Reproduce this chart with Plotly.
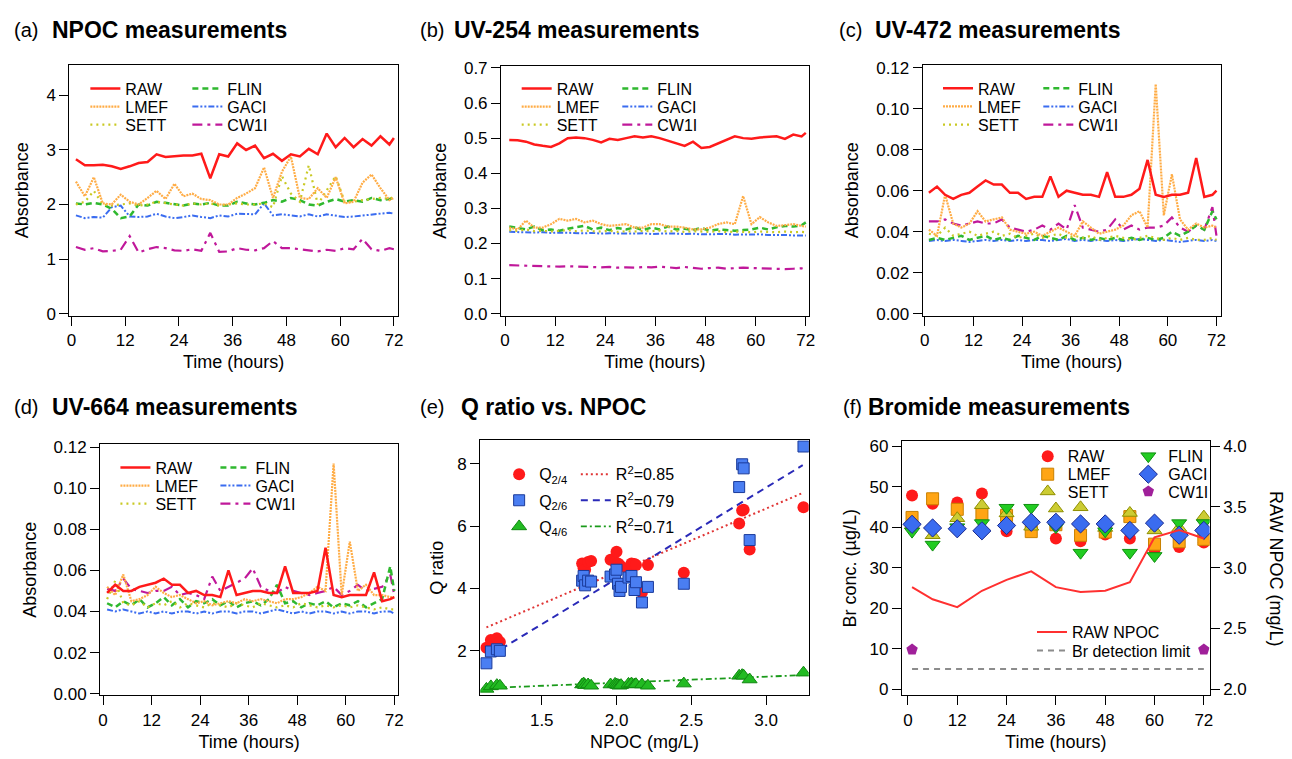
import plotly.graph_objects as go

W, H = 1292, 759
FONT = "Liberation Sans, Arial, Helvetica, sans-serif"

# ---------------- data ----------------
TIME = [1, 3, 5, 7, 9, 11, 13, 15, 17, 19, 21, 23, 25, 27, 29, 31, 33, 35, 37,
        39, 41, 43, 45, 47, 49, 51, 53, 55, 57, 59, 61, 63, 65, 67, 69, 71, 72]
SERIES = ["RAW", "LMEF", "SETT", "FLIN", "GACI", "CW1I"]

# (a) NPOC
NPOC_RAW = [2.83, 2.72, 2.72, 2.73, 2.70, 2.65, 2.70, 2.76, 2.78, 2.92, 2.87, 2.89, 2.90, 2.90, 2.93, 2.48, 2.92, 2.88, 3.12,
            3.00, 3.08, 2.85, 2.93, 2.80, 2.92, 2.88, 3.02, 2.92, 3.30, 3.05, 3.22, 3.05, 3.20, 3.08, 3.25, 3.10, 3.22]
NPOC_LMEF = [2.42, 2.15, 2.50, 2.02, 2.00, 2.18, 2.05, 2.00, 2.12, 2.25, 2.10, 2.38, 2.15, 2.20, 2.10, 2.08, 2.00, 2.00, 2.12,
             2.20, 2.30, 2.68, 2.12, 2.60, 2.88, 2.12, 2.10, 2.30, 2.12, 2.50, 2.02, 2.05, 2.40, 2.55, 2.30, 2.08, 2.12]
NPOC_SETT = [2.00, 2.05, 2.25, 2.00, 1.98, 2.00, 2.02, 1.98, 2.00, 2.05, 2.02, 2.00, 1.98, 2.02, 2.00, 2.02, 1.98, 2.00, 2.02,
             2.00, 2.00, 2.02, 1.95, 2.52, 2.20, 2.05, 2.72, 2.00, 2.25, 2.52, 2.05, 2.05, 2.08, 2.10, 2.12, 2.10, 2.15]
NPOC_FLIN = [2.02, 2.00, 2.03, 2.00, 1.92, 1.75, 1.78, 2.00, 1.98, 2.05, 2.03, 2.00, 1.98, 2.02, 2.00, 2.03, 1.98, 1.98, 2.05,
             2.02, 2.00, 2.03, 2.08, 2.05, 2.12, 2.08, 2.00, 1.98, 2.05, 2.10, 2.05, 2.08, 2.05, 2.12, 2.08, 2.10, 2.12]
NPOC_GACI = [1.80, 1.75, 1.77, 1.76, 1.95, 1.98, 1.78, 1.77, 1.78, 1.83, 1.78, 1.75, 1.77, 1.80, 1.77, 1.75, 1.80, 1.78, 1.83,
             1.82, 1.82, 2.02, 1.80, 1.82, 1.80, 1.78, 1.82, 1.78, 1.82, 1.80, 1.77, 1.78, 1.80, 1.82, 1.83, 1.85, 1.83]
NPOC_CW1I = [1.22, 1.17, 1.20, 1.14, 1.15, 1.17, 1.42, 1.12, 1.18, 1.22, 1.20, 1.16, 1.15, 1.18, 1.15, 1.48, 1.13, 1.14, 1.20,
             1.17, 1.16, 1.20, 1.33, 1.20, 1.20, 1.18, 1.15, 1.14, 1.17, 1.15, 1.20, 1.18, 1.37, 1.18, 1.15, 1.20, 1.18]

# (b) UV-254
UV254_RAW = [.495, .494, .490, .482, .478, .475, .485, .500, .502, .500, .495, .488, .498, .495, .500, .505, .502, .505, .500,
             .492, .485, .478, .490, .472, .475, .485, .495, .505, .500, .498, .502, .503, .505, .498, .510, .505, .515]
UV254_LMEF = [.245, .240, .265, .245, .245, .255, .270, .265, .270, .260, .265, .255, .250, .252, .255, .245, .245, .255, .255,
              .248, .248, .245, .240, .240, .245, .255, .260, .255, .335, .255, .275, .260, .250, .252, .255, .250, .248]
UV254_SETT = [.238, .236, .240, .235, .236, .234, .236, .238, .235, .237, .235, .234, .236, .233, .235, .234, .236, .235, .237,
              .234, .236, .233, .235, .234, .233, .235, .232, .234, .233, .232, .234, .233, .232, .234, .232, .233, .232]
UV254_FLIN = [.248, .245, .240, .248, .238, .240, .236, .242, .245, .250, .240, .245, .238, .244, .240, .246, .238, .245, .240,
              .248, .240, .242, .238, .244, .236, .240, .238, .236, .238, .240, .245, .240, .246, .250, .248, .252, .260]
UV254_GACI = [.233, .232, .233, .231, .232, .230, .231, .230, .231, .229, .230, .228, .229, .228, .229, .228, .229, .227, .228,
              .229, .228, .227, .228, .226, .227, .226, .227, .225, .226, .225, .226, .224, .225, .224, .223, .224, .223]
UV254_CW1I = [.138, .137, .136, .135, .136, .135, .134, .135, .134, .133, .134, .132, .133, .131, .132, .131, .133, .132, .134,
              .131, .130, .133, .131, .128, .130, .131, .128, .130, .131, .130, .129, .127, .128, .127, .128, .129, .124]

# (c) UV-472
UV472_RAW = [.059, .062, .058, .056, .058, .059, .062, .065, .063, .063, .059, .059, .056, .057, .057, .067, .057, .060, .059,
             .058, .058, .057, .069, .057, .057, .058, .061, .075, .058, .057, .058, .058, .059, .076, .057, .058, .060]
UV472_LMEF = [.041, .038, .058, .044, .042, .044, .050, .045, .046, .047, .041, .040, .039, .040, .038, .040, .042, .040, .038,
              .045, .042, .039, .040, .041, .043, .048, .050, .042, .112, .048, .068, .046, .041, .044, .042, .043, .042]
UV472_SETT = [.039, .038, .042, .038, .039, .040, .038, .039, .040, .038, .039, .037, .038, .039, .037, .038, .039, .037, .038,
              .037, .038, .036, .037, .038, .037, .036, .037, .038, .037, .036, .037, .036, .037, .036, .036, .037, .036]
UV472_FLIN = [.036, .037, .036, .037, .038, .036, .037, .038, .036, .037, .036, .038, .037, .036, .038, .037, .036, .038, .036,
              .037, .036, .037, .036, .037, .036, .037, .036, .037, .036, .037, .040, .038, .040, .043, .041, .050, .046]
UV472_GACI = [.0355, .036, .0355, .036, .0355, .035, .0355, .036, .0355, .036, .0355, .036, .0355, .036, .036, .0355, .036,
              .0365, .0355, .036, .0355, .036, .0355, .036, .0355, .036, .0365, .036, .0355, .036, .0355, .035, .0355, .036,
              .0355, .036, .0355]
UV472_CW1I = [.045, .045, .046, .044, .043, .044, .045, .044, .044, .046, .042, .041, .040, .041, .043, .041, .044, .041, .053,
              .042, .041, .040, .041, .046, .041, .043, .041, .042, .042, .043, .047, .042, .040, .043, .041, .052, .038]

# (d) UV-664
UV664_RAW = [.049, .053, .050, .050, .052, .053, .054, .056, .053, .053, .049, .050, .048, .048, .047, .060, .048, .049, .050,
             .050, .049, .049, .062, .049, .049, .049, .050, .071, .048, .047, .048, .048, .048, .059, .045, .046, .047]
UV664_LMEF = [.052, .048, .058, .045, .046, .048, .052, .049, .047, .048, .046, .044, .045, .043, .044, .045, .044, .046, .045,
              .046, .045, .044, .046, .046, .047, .049, .052, .050, .112, .048, .074, .050, .053, .048, .048, .047, .047]
UV664_SETT = [.046, .055, .044, .043, .045, .042, .044, .043, .045, .042, .044, .043, .042, .044, .043, .042, .044, .043, .042,
              .044, .043, .042, .043, .042, .044, .043, .042, .043, .042, .043, .042, .043, .042, .041, .042, .041, .041]
UV664_FLIN = [.044, .042, .045, .043, .046, .042, .044, .047, .043, .046, .042, .045, .044, .046, .043, .045, .042, .044, .045,
              .043, .046, .053, .044, .045, .042, .044, .043, .045, .042, .044, .043, .045, .042, .044, .046, .062, .050]
UV664_GACI = [.041, .040, .041, .040, .039, .040, .039, .040, .039, .040, .040, .039, .040, .039, .040, .040, .039, .040, .040,
              .039, .040, .041, .040, .039, .040, .039, .040, .040, .039, .040, .039, .040, .040, .039, .040, .040, .039]
UV664_CW1I = [.051, .050, .056, .051, .050, .049, .050, .050, .052, .048, .049, .048, .046, .057, .050, .052, .054, .056, .061,
              .052, .050, .049, .052, .050, .049, .048, .049, .050, .052, .048, .050, .053, .050, .051, .052, .058, .048]

# (e) Q ratio vs NPOC
E_NPOC = [1.13, 1.16, 1.20, 1.22, 1.77, 1.78, 1.79, 1.81, 1.83, 1.96, 1.99, 2.00, 2.01, 2.02, 2.03, 2.08, 2.10, 2.12,
          2.13, 2.17, 2.21, 2.45, 2.82, 2.84, 2.85, 2.89, 3.25]
E_Q24 = [2.10, 2.35, 2.40, 2.28, 4.80, 4.65, 4.60, 4.85, 4.88, 4.92, 4.85, 5.18, 4.80, 4.75, 4.70, 4.65, 4.80, 4.78,
         4.75, 3.88, 4.75, 4.50, 6.08, 6.50, 6.52, 5.25, 6.60]
E_Q26 = [1.60, 1.98, 2.05, 2.00, 4.25, 4.40, 4.10, 4.25, 4.22, 4.38, 4.45, 4.60, 4.15, 3.92, 4.05, 4.35, 4.40, 3.95,
         4.20, 3.55, 4.05, 4.15, 7.25, 7.98, 7.85, 5.55, 8.55]
E_Q46 = [0.78, 0.86, 0.90, 0.88, 0.92, 0.95, 0.90, 0.92, 0.88, 0.92, 0.94, 0.92, 0.90, 0.88, 0.90, 0.94, 0.95, 0.92,
         0.93, 0.92, 0.88, 0.95, 1.20, 1.22, 1.20, 1.08, 1.30]
FIT_X_Q24 = [1.13, 3.24]
FIT_Q24 = [2.75, 7.05]
FIT_X_Q26 = [1.16, 3.245]
FIT_Q26 = [1.86, 7.95]
FIT_X_Q46 = [1.10, 3.24]
FIT_Q46 = [0.80, 1.22]
Q_LABELS = ["Q<sub>2/4</sub>", "Q<sub>2/6</sub>", "Q<sub>4/6</sub>"]
R2_LABELS = ["R<sup>2</sup>=0.85", "R<sup>2</sup>=0.79", "R<sup>2</sup>=0.71"]

# (f) Bromide
F_TIME = [1, 6, 12, 18, 24, 30, 36, 42, 48, 54, 60, 66, 72]
F_RAW = [47.8, 45.8, 46.1, 48.3, 39.0, 40.0, 37.2, 36.5, 38.2, 37.2, 34.4, 35.1, 36.2]
F_LMEF = [42.4, 47.0, 44.4, 43.2, 42.9, 38.9, 40.6, 38.0, 38.8, 42.6, 35.8, 36.4, 37.0]
F_SETT = [40.5, 38.0, 42.2, 45.4, 43.4, 40.1, 44.6, 44.9, 39.8, 43.5, 39.2, 39.8, 42.6]
F_FLIN = [38.9, 35.7, 40.0, 41.0, 44.8, 44.8, 40.0, 33.7, 39.0, 33.7, 32.9, 41.0, 41.0]
F_GACI = [40.7, 39.8, 39.6, 39.1, 40.4, 41.2, 41.2, 40.8, 40.8, 39.2, 41.0, 38.0, 39.2]
F_CW1I_TIME = [1, 72]
F_CW1I = [9.8, 9.8]
F_RAW_NPOC = [2.84, 2.74, 2.675, 2.81, 2.90, 2.97, 2.84, 2.80, 2.81, 2.88, 3.25, 3.31, 3.24]
BR_DL_TIME = [1, 72]
BR_DL = [5, 5]

# ---------------- styles ----------------
COLORS = {"RAW": "#ff1a1a", "LMEF": "#ffac45", "SETT": "#c9c923", "FLIN": "#2fb82f",
          "GACI": "#3a6cf0", "CW1I": "#c0189a"}
DASHES = {"RAW": "solid", "LMEF": "2px,1px", "SETT": "2px,4px", "FLIN": "6px,4px",
          "GACI": "6px,2px,2px,2px,2px,2px", "CW1I": "10px,5px,3px,5px"}
WIDTHS = {"RAW": 2.5, "LMEF": 2.2, "SETT": 2.2, "FLIN": 2.5, "GACI": 2.0, "CW1I": 2.2}
ROW = {"RAW": 0, "FLIN": 0, "LMEF": 1, "GACI": 1, "SETT": 2, "CW1I": 2}
RANK = {"RAW": 1, "LMEF": 1, "SETT": 1, "FLIN": 2, "GACI": 2, "CW1I": 2}
DRAW_ORDER = ["CW1I", "GACI", "FLIN", "SETT", "LMEF", "RAW"]


def leg_id(n):
    return "legend" if n == 1 else f"legend{n}"


def ax_id(n, letter):
    return letter if n == 1 else f"{letter}{n}"


fig = go.Figure()

line_panels = [
    {"RAW": NPOC_RAW, "LMEF": NPOC_LMEF, "SETT": NPOC_SETT, "FLIN": NPOC_FLIN, "GACI": NPOC_GACI, "CW1I": NPOC_CW1I},
    {"RAW": UV254_RAW, "LMEF": UV254_LMEF, "SETT": UV254_SETT, "FLIN": UV254_FLIN, "GACI": UV254_GACI, "CW1I": UV254_CW1I},
    {"RAW": UV472_RAW, "LMEF": UV472_LMEF, "SETT": UV472_SETT, "FLIN": UV472_FLIN, "GACI": UV472_GACI, "CW1I": UV472_CW1I},
    {"RAW": UV664_RAW, "LMEF": UV664_LMEF, "SETT": UV664_SETT, "FLIN": UV664_FLIN, "GACI": UV664_GACI, "CW1I": UV664_CW1I},
]

for p, data in enumerate(line_panels):
    n = p + 1
    base = 3 * p + 1
    for s in DRAW_ORDER:
        fig.add_trace(go.Scatter(
            x=TIME, y=data[s], mode="lines", name=s,
            line=dict(color=COLORS[s], dash=DASHES[s], width=WIDTHS[s]),
            xaxis=ax_id(n, "x"), yaxis=ax_id(n, "y"),
            legend=leg_id(base + ROW[s]), legendrank=RANK[s], hoverinfo="skip"))

# (e)
E_MARK = [dict(symbol="circle", size=12, color="#ff1a1a", line=dict(width=0)),
          dict(symbol="square", size=11, color="#4a7ef2", line=dict(width=1, color="#1a3a9a")),
          dict(symbol="triangle-up", size=13, color="#22bb22", line=dict(width=1, color="#118811"))]
E_FIT_LINE = [dict(color="#e03535", width=2, dash="2px,3px"),
              dict(color="#2a2ab8", width=2, dash="7px,5px"),
              dict(color="#1a9a1a", width=1.8, dash="6px,3px,2px,3px")]
e_vals = [E_Q24, E_Q26, E_Q46]
e_fit_x = [FIT_X_Q24, FIT_X_Q26, FIT_X_Q46]
e_fit_y = [FIT_Q24, FIT_Q26, FIT_Q46]
for i in range(3):
    fig.add_trace(go.Scatter(x=e_fit_x[i], y=e_fit_y[i], mode="lines", name=R2_LABELS[i],
                             line=E_FIT_LINE[i], xaxis="x5", yaxis="y5", legendwidth=95,
                             legend=leg_id(13 + i), legendrank=2, hoverinfo="skip"))
for i in range(3):
    fig.add_trace(go.Scatter(x=E_NPOC, y=e_vals[i], mode="markers", name=Q_LABELS[i],
                             marker=E_MARK[i], xaxis="x5", yaxis="y5",
                             legend=leg_id(13 + i), legendrank=1, hoverinfo="skip"))

# (f)
F_MARK = {"RAW": dict(symbol="circle", size=12, color="#ff1a1a", line=dict(width=0)),
          "LMEF": dict(symbol="square", size=12, color="#ffa514", line=dict(width=1, color="#c98000")),
          "SETT": dict(symbol="triangle-up", size=13, color="#cccc33", line=dict(width=1, color="#8f8f00")),
          "FLIN": dict(symbol="triangle-down", size=13, color="#22cc22", line=dict(width=1, color="#109010")),
          "GACI": dict(symbol="diamond", size=14, color="#3a6cf0", line=dict(width=1, color="#1a2a90")),
          "CW1I": dict(symbol="pentagon", size=12, color="#a0209a", line=dict(width=0))}
f_x = {"RAW": F_TIME, "LMEF": F_TIME, "SETT": F_TIME, "FLIN": F_TIME, "GACI": F_TIME, "CW1I": F_CW1I_TIME}
f_y = {"RAW": F_RAW, "LMEF": F_LMEF, "SETT": F_SETT, "FLIN": F_FLIN, "GACI": F_GACI, "CW1I": F_CW1I}
for s in SERIES:
    fig.add_trace(go.Scatter(x=f_x[s], y=f_y[s], mode="markers", name=s, marker=F_MARK[s],
                             xaxis="x6", yaxis="y6", legend=leg_id(16 + ROW[s]),
                             legendrank=RANK[s], hoverinfo="skip"))
fig.add_trace(go.Scatter(x=BR_DL_TIME, y=BR_DL, mode="lines", name="Br detection limit",
                         line=dict(color="#8c8c8c", width=2, dash="6px,5px"),
                         xaxis="x6", yaxis="y6", legend=leg_id(20), hoverinfo="skip"))
fig.add_trace(go.Scatter(x=F_TIME, y=F_RAW_NPOC, mode="lines", name="RAW NPOC",
                         line=dict(color="#ff3030", width=2),
                         xaxis="x6", yaxis="y7", legend=leg_id(19), hoverinfo="skip"))

# ---------------- layout ----------------
DOM_X = [(67, 398), (502, 812), (927, 1227), (98, 398), (481, 812), (906, 1216)]
DOM_Y = [(59, 315), (60, 315), (59, 315), (446, 702), (442, 702), (443, 702)]
X_RANGES = [[-0.44, 72.9], [-0.95, 72.7], [-0.5, 73.0], [-0.7, 72.9], [1.089, 3.285], [-1.45, 73.4]]
Y_RANGES = [[-0.04, 4.56], [-0.006, 0.706], [-0.001, 0.1214], [-0.0007, 0.1214], [0.58, 8.75], [-1.45, 61.2]]
Y_DTICK = [1, 0.1, 0.02, 0.02, 2, 10]
Y_FMT = ["", ".1f", ".2f", ".2f", "", ""]
Y_STANDOFF = [13, 12, 12, 12, 8, 8]
X_TITLES = ["Time (hours)", "Time (hours)", "Time (hours)", "Time (hours)", "NPOC (mg/L)", "Time (hours)"]
Y_TITLES = ["Absorbance", "Absorbance", "Absorbance", "Absorbance", "Q ratio", "Br conc. (µg/L)"]

AX = dict(showline=True, linecolor="black", linewidth=1.3, mirror=True, ticks="outside",
          ticklen=9, tickwidth=1.3, tickcolor="black", showgrid=False, zeroline=False,
          tickfont=dict(size=17, color="black", family=FONT))

layout = dict(width=W, height=H, margin=dict(l=0, r=0, t=0, b=0),
              paper_bgcolor="white", plot_bgcolor="white",
              font=dict(family=FONT, color="black", size=16), showlegend=True)

for i in range(6):
    n = i + 1
    xl, xr = DOM_X[i]
    yt, yb = DOM_Y[i]
    xa = dict(AX, domain=[xl / W, xr / W], range=X_RANGES[i], anchor=ax_id(n, "y"),
              title=dict(text=X_TITLES[i], font=dict(size=18, family=FONT), standoff=6))
    if i == 4:
        xa.update(tick0=0, dtick=0.5, tickformat=".1f")
    else:
        xa.update(tick0=0, dtick=12)
    ya = dict(AX, domain=[1 - yb / H, 1 - yt / H], range=Y_RANGES[i], anchor=ax_id(n, "x"),
              tick0=0, dtick=Y_DTICK[i], tickformat=Y_FMT[i],
              title=dict(text=Y_TITLES[i], font=dict(size=18, family=FONT), standoff=Y_STANDOFF[i]))
    layout["xaxis" if n == 1 else f"xaxis{n}"] = xa
    layout["yaxis" if n == 1 else f"yaxis{n}"] = ya

layout["yaxis7"] = dict(AX, overlaying="y6", side="right", anchor="x6", mirror=False,
                        range=[1.9517, 4.04], tick0=0, dtick=0.5, tickformat=".1f")

# legends: (item-start x, row-centre y, entry width) in pixels
LEG_POS = [
    (83, 83.3, 57), (83, 101.7, 57), (83, 120, 57),
    (517.7, 83.3, 55.6), (517.7, 101.7, 55.6), (517.7, 120, 55.6),
    (942.3, 83, 55.3), (942.3, 101.5, 55.3), (942.3, 120, 55.3),
    (113.3, 470, 55), (113.3, 488.3, 55), (113.3, 506.7, 55),
    (500, 476.7, 31.7), (500, 503.3, 31.7), (500, 530, 31.7),
    (1032.7, 458.3, 55.6), (1032.7, 476.7, 55.6), (1032.7, 494.3, 55.6),
    (1037, 637.7, 150), (1037, 656.7, 150),
]
for k, (lx, ly, ew) in enumerate(LEG_POS):
    layout[leg_id(k + 1)] = dict(x=lx / W, y=1 - ly / H, xanchor="left", yanchor="middle",
                                 orientation="h", entrywidth=ew, entrywidthmode="pixels",
                                 itemwidth=30, bgcolor="rgba(0,0,0,0)", borderwidth=0,
                                 font=dict(size=16, family=FONT, color="black"),
                                 traceorder="normal", itemclick=False, itemdoubleclick=False)

# panel titles
TITLES = [("(a)", 9, "NPOC measurements", 47, 23),
          ("(b)", 418, "UV-254 measurements", 452, 23),
          ("(c)", 841, "UV-472 measurements", 877, 23),
          ("(d)", 9, "UV-664 measurements", 47, 408),
          ("(e)", 418, "Q ratio vs. NPOC", 460, 408),
          ("(f)", 845, "Bromide measurements", 870, 408)]
ann = []
for lab, lx, txt, tx, ty in TITLES:
    ann.append(dict(text=lab, x=lx / W, y=1 - ty / H, xref="paper", yref="paper",
                    xanchor="left", yanchor="middle", showarrow=False,
                    font=dict(size=20, family=FONT, color="black")))
    ann.append(dict(text=f"<b>{txt}</b>", x=tx / W, y=1 - ty / H, xref="paper", yref="paper",
                    xanchor="left", yanchor="middle", showarrow=False,
                    font=dict(size=23, family=FONT, color="black")))
ann.append(dict(text="RAW NPOC (mg/L)", x=1283 / W, y=1 - 572.5 / H, xref="paper", yref="paper",
                xanchor="center", yanchor="middle", textangle=90, showarrow=False,
                font=dict(size=18, family=FONT, color="black")))
layout["annotations"] = ann

fig.update_layout(**layout)
fig.write_html("out.html")
